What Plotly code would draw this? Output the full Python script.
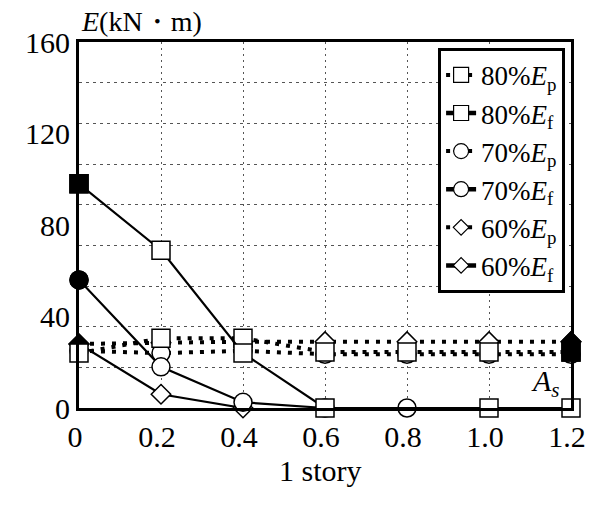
import plotly.graph_objects as go

# ---- data ----
X = [0, 0.2, 0.4, 0.6, 0.8, 1.0, 1.2]
E80p = [24, 30.5, 30.5, 24.5, 24.5, 24.5, 24.5]
E80f = [98, 69, 24, 0, None, 0, 0]
E70p = [25, 24, 25, 23.5, 23.5, 23.5, 23.5]
E70f = [56, 18, 2.5, 0, 0, None, None]
E60p = [28, 28.5, 29, 29, 29, 29, 29]
E60f = [28, 6, 0, None, None, None, None]

names = {
    "80p": "80%<i>E</i><sub>p</sub>", "80f": "80%<i>E</i><sub>f</sub>",
    "70p": "70%<i>E</i><sub>p</sub>", "70f": "70%<i>E</i><sub>f</sub>",
    "60p": "60%<i>E</i><sub>p</sub>", "60f": "60%<i>E</i><sub>f</sub>",
}
yticks = [0, 40, 80, 120, 160]
xticks = [0, 0.2, 0.4, 0.6, 0.8, 1.0, 1.2]
xticklabels = ["0", "0.2", "0.4", "0.6", "0.8", "1.0", "1.2"]
x_title = "1 story"
y_title = "<i>E</i>(kN・m)"

FONT = "Liberation Serif, Times New Roman, serif"
sym = {"80": "square", "70": "circle", "60": "diamond"}
msize = {"80": 18, "70": 18, "60": 15}
DOT = "4px,7px"

fig = go.Figure()

def add(key, ys, dotted, filled_idx=None):
    s = key[:2]
    fig.add_trace(go.Scatter(
        x=X, y=ys, mode="lines+markers", connectgaps=True, cliponaxis=False,
        showlegend=False,
        line=dict(color="black", width=4 if dotted else 2.2, dash=DOT if dotted else "solid"),
        marker=dict(symbol=sym[s], size=msize[s], color="white",
                    line=dict(color="black", width=1.5)),
    ))
    if filled_idx is not None:
        fig.add_trace(go.Scatter(
            x=[X[filled_idx]], y=[ys[filled_idx]], mode="markers", cliponaxis=False,
            showlegend=False,
            marker=dict(symbol=sym[s], size=msize[s], color="black",
                        line=dict(color="black", width=1.5)),
        ))

# draw order (bottom -> top)
add("60p", E60p, True, 6)
add("70p", E70p, True)
add("60f", E60f, False, 0)
add("70f", E70f, False, 0)
add("80p", E80p, True, 6)
add("80f", E80f, False, 0)

# legend-only entries
for rank, key in enumerate(["80p", "80f", "70p", "70f", "60p", "60f"]):
    s = key[:2]
    dotted = key.endswith("p")
    fig.add_trace(go.Scatter(
        x=[None], y=[None], mode="lines+markers", name=names[key], legendrank=rank + 1,
        line=dict(color="black", width=4 if dotted else 4.5, dash=DOT if dotted else "solid"),
        marker=dict(symbol=sym[s], size=msize[s] - 3, color="white",
                    line=dict(color="black", width=1.2)),
    ))

fig.update_layout(
    width=609, height=506,
    margin=dict(l=79, r=38, t=42, b=98),
    paper_bgcolor="white", plot_bgcolor="white",
    font=dict(family=FONT, size=29, color="black"),
    showlegend=True,
    legend=dict(
        x=0.988, xanchor="right", y=0.984, yanchor="top",
        bgcolor="white", bordercolor="black", borderwidth=3,
        font=dict(family=FONT, size=27, color="black"),
        tracegroupgap=0, itemwidth=30,
    ),
    xaxis=dict(
        range=[0, 1.2], tickvals=xticks, ticktext=xticklabels,
        showline=True, mirror=True, linecolor="black", linewidth=3,
        showgrid=True, gridcolor="#555", gridwidth=1, griddash="2px,4px",
        zeroline=False, ticks="", ticklabelshift=-4,
        tickfont=dict(family=FONT, size=30),
    ),
    yaxis=dict(
        range=[0, 160], tickvals=yticks,
        showline=True, mirror=True, linecolor="black", linewidth=3,
        showgrid=False, zeroline=False, ticks="",
        tickfont=dict(family=FONT, size=30),
        minor=dict(showgrid=True, tick0=0, dtick=160 / 9, gridcolor="#555",
                   gridwidth=1, griddash="3px,4px"),
    ),
    annotations=[
        dict(text=y_title, xref="paper", yref="paper", x=0.0, y=1.055,
             xanchor="left", yanchor="middle", showarrow=False,
             font=dict(family=FONT, size=28)),
        dict(text=x_title, xref="paper", yref="paper", x=0.49, y=-0.17,
             xanchor="center", yanchor="middle", showarrow=False,
             font=dict(family=FONT, size=30)),
        dict(text="<i>A</i><sub><i>s</i></sub>", xref="paper", yref="paper", x=0.982, y=0.012,
             xanchor="right", yanchor="bottom", showarrow=False,
             font=dict(family=FONT, size=30)),
    ],
)

fig.write_html("out.html")
